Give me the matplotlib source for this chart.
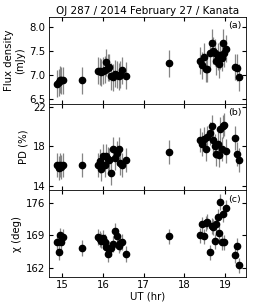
import matplotlib
matplotlib.use("Agg")
import matplotlib.pyplot as plt
import numpy as np

ut = [14.885, 14.918, 14.951, 14.975, 15.033,
      15.48,
      15.87, 15.92, 15.96, 16.00, 16.04, 16.08, 16.12, 16.16, 16.21, 16.26,
      16.30, 16.34, 16.39, 16.43, 16.48, 16.57,
      17.61,
      18.377, 18.43, 18.475, 18.516, 18.557, 18.615, 18.664, 18.705, 18.746,
      18.779, 18.811, 18.844, 18.877, 18.91, 18.943, 18.975, 19.016,
      19.23, 19.295, 19.344]

flux = [6.81, 6.84, 6.90, 6.88, 6.88,
        6.88,
        7.08, 7.07, 7.05, 7.08, 7.10, 7.26, 7.14, 7.15, 6.97, 6.95,
        7.02, 7.00, 6.97, 7.00, 7.09, 6.98,
        7.24,
        7.29, 7.20, 7.37, 7.12, 7.12, 7.45, 7.66, 7.50, 7.46,
        7.28, 7.37, 7.22, 7.40, 7.35, 7.66, 7.45, 7.54,
        7.16, 7.14, 6.95]

pd = [16.1, 15.8, 16.1, 15.9, 16.1,
      16.1,
      16.1, 16.5, 15.7, 17.0, 16.1, 17.0, 16.7, 16.6, 15.3, 17.7,
      16.8, 17.3, 17.7, 16.3, 16.1, 16.6,
      17.45,
      18.6, 18.2, 18.75, 17.7, 18.9, 19.3, 20.0, 18.6, 18.0,
      17.2, 18.2, 17.1, 19.75, 17.7, 20.0, 20.2, 17.5,
      18.8, 17.2, 16.65]

chi = [167.5, 165.4, 169.0, 167.6, 168.7,
       166.3,
       168.6, 168.2, 167.9, 168.5, 167.6, 166.4, 165.0, 166.0, 166.2, 167.2,
       170.0, 168.9, 166.8, 167.3, 167.6, 165.0,
       168.8,
       169.0, 171.4, 168.8, 171.6, 172.0, 165.3, 171.0, 170.8, 167.7,
       171.5, 173.0, 169.5, 176.2, 167.5, 173.7, 167.5, 175.0,
       164.7, 166.8, 162.5]

flux_err = 0.28
pd_err = 1.2
chi_err = 1.7

ylabels = ["Flux density\n(mJy)", "PD (%)", "\u03c7 (deg)"]
panel_tags = ["(a)", "(b)", "(c)"]
yticks = [[6.5, 7.0, 7.5, 8.0], [14, 18, 22], [162, 169, 176]]
ylims = [(6.4, 8.2), (13.6, 22.3), (160.0, 178.8)]
xticks = [15, 16, 17, 18, 19]

fig = plt.figure(figsize=(2.74, 3.02), dpi=100)
fig.subplots_adjust(left=0.179, right=0.898, top=0.944, bottom=0.083, hspace=0)
axes = fig.subplots(3, 1, sharex=True)

for ax, vals, err, lab, tag, yt, yl in zip(axes, [flux, pd, chi],
                                            [flux_err, pd_err, chi_err],
                                            ylabels, panel_tags, yticks, ylims):
    ax.errorbar(ut, vals, yerr=err, fmt='o', color='black', ms=4.5,
                ecolor='#858585', elinewidth=0.9, capsize=0)
    ax.set_ylim(*yl)
    ax.set_yticks(yt)
    ax.set_ylabel(lab, fontsize=7.3, labelpad=3)
    ax.text(0.975, 0.95, tag, transform=ax.transAxes, ha='right', va='top',
            fontsize=6.8)
    ax.tick_params(direction='in', top=True, right=True, labelsize=7.3,
                   length=3, pad=2.5)
    for s in ax.spines.values():
        s.set_linewidth(0.6)

axes[0].set_xlim(14.68, 19.51)
axes[2].set_xticks(xticks)
axes[2].set_xlabel("UT (hr)", fontsize=7.3, labelpad=1)
axes[0].set_title("OJ 287 / 2014 February 27 / Kanata", fontsize=7.5, pad=2)

fig.savefig("out.png", dpi=100)
